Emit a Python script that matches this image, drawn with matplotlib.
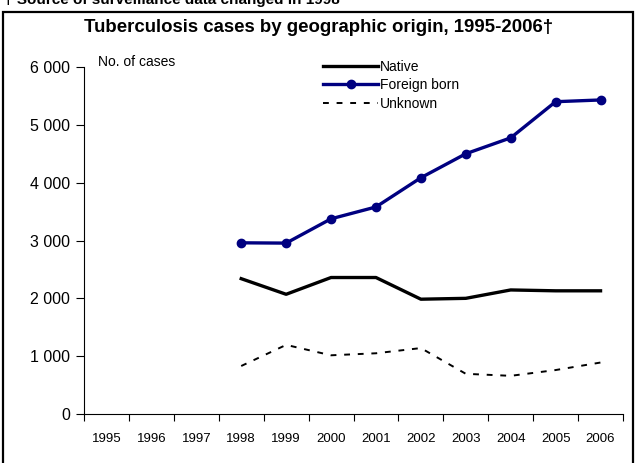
import numpy as np
import matplotlib.pyplot as plt
from matplotlib.patches import Rectangle
from matplotlib.ticker import FixedLocator, FuncFormatter

# ----------
# DATA
# ----------
years = list(range(1995, 2007))
data_years = list(range(1998, 2007))
native = [2340, 2070, 2360, 2360, 1985, 2000, 2145, 2130, 2130]
foreign_born = [2960, 2955, 3375, 3580, 4085, 4500, 4775, 5400, 5430]
unknown = [830, 1195, 1015, 1050, 1140, 695, 660, 760, 890]

# ----------
# FIGURE
# ----------
W, H = 636, 463
fig = plt.figure(figsize=(W / 100, H / 100), dpi=100)
plt.rcParams['font.family'] = ['Liberation Sans', 'DejaVu Sans']

ax = fig.add_axes([84 / W, 1 - 414 / H, (623 - 84) / W, (414 - 67) / H])

# category positions: index 0 = 1995
xpos = [years.index(y) for y in data_years]

ax.plot(xpos, native, color='black', lw=2.4, label='Native')
ax.plot(xpos, foreign_born, color='#000080', lw=2.4, marker='o', ms=6,
        label='Foreign born')
ax.plot(xpos, unknown, color='black', lw=1.4, ls=(0, (3, 4)), label='Unknown')

ax.set_xlim(-0.5, len(years) - 0.5)
ax.set_ylim(0, 6000)

# x axis: ticks at category boundaries, labels at centres
ax.xaxis.set_major_locator(FixedLocator(np.arange(-0.5, len(years), 1.0)))
ax.xaxis.set_minor_locator(FixedLocator(np.arange(len(years))))
ax.set_xticklabels([])
ax.set_xticklabels([str(y) for y in years], minor=True)
ax.tick_params(axis='x', which='major', length=5, width=0.8, direction='out')
ax.tick_params(axis='x', which='minor', length=0, labelsize=9.5, pad=14)

ax.set_yticks(range(0, 6001, 1000))
ax.yaxis.set_major_formatter(FuncFormatter(lambda v, p: f"{int(v):,}".replace(',', ' ')))
ax.tick_params(axis='y', length=6, width=0.8, labelsize=11.5, pad=4)

for s in ['top', 'right']:
    ax.spines[s].set_visible(False)
for s in ['left', 'bottom']:
    ax.spines[s].set_linewidth(0.8)

leg = ax.legend(loc='upper left', bbox_to_anchor=(313 / W, 1 - 50 / H),
                bbox_transform=fig.transFigure, frameon=False, fontsize=10,
                handlelength=4.0, handletextpad=0.1, labelspacing=0.33,
                borderpad=0.2)

ax.text(98 / W, 1 - 62 / H, "No. of cases", transform=fig.transFigure,
        fontsize=10, va='center', ha='left')

# title and frame
fig.text(319 / W, 1 - 28 / H, "Tuberculosis cases by geographic origin, 1995-2006\u2020",
         fontsize=13.4, fontweight='bold', ha='center', va='center',
         fontstretch='condensed')
fig.text(4 / W, 1 - 4 / H, "\u2020 Source of surveillance data changed in 1998",
         fontsize=11, fontweight='bold', ha='left', va='baseline',
         fontstretch='condensed')

fig.patches.append(Rectangle((3 / W, -0.05), (633 - 3) / W, 1 - 12 / H + 0.05,
                             transform=fig.transFigure, fill=False,
                             edgecolor='black', lw=1.6))

fig.savefig('out.png', dpi=100)
